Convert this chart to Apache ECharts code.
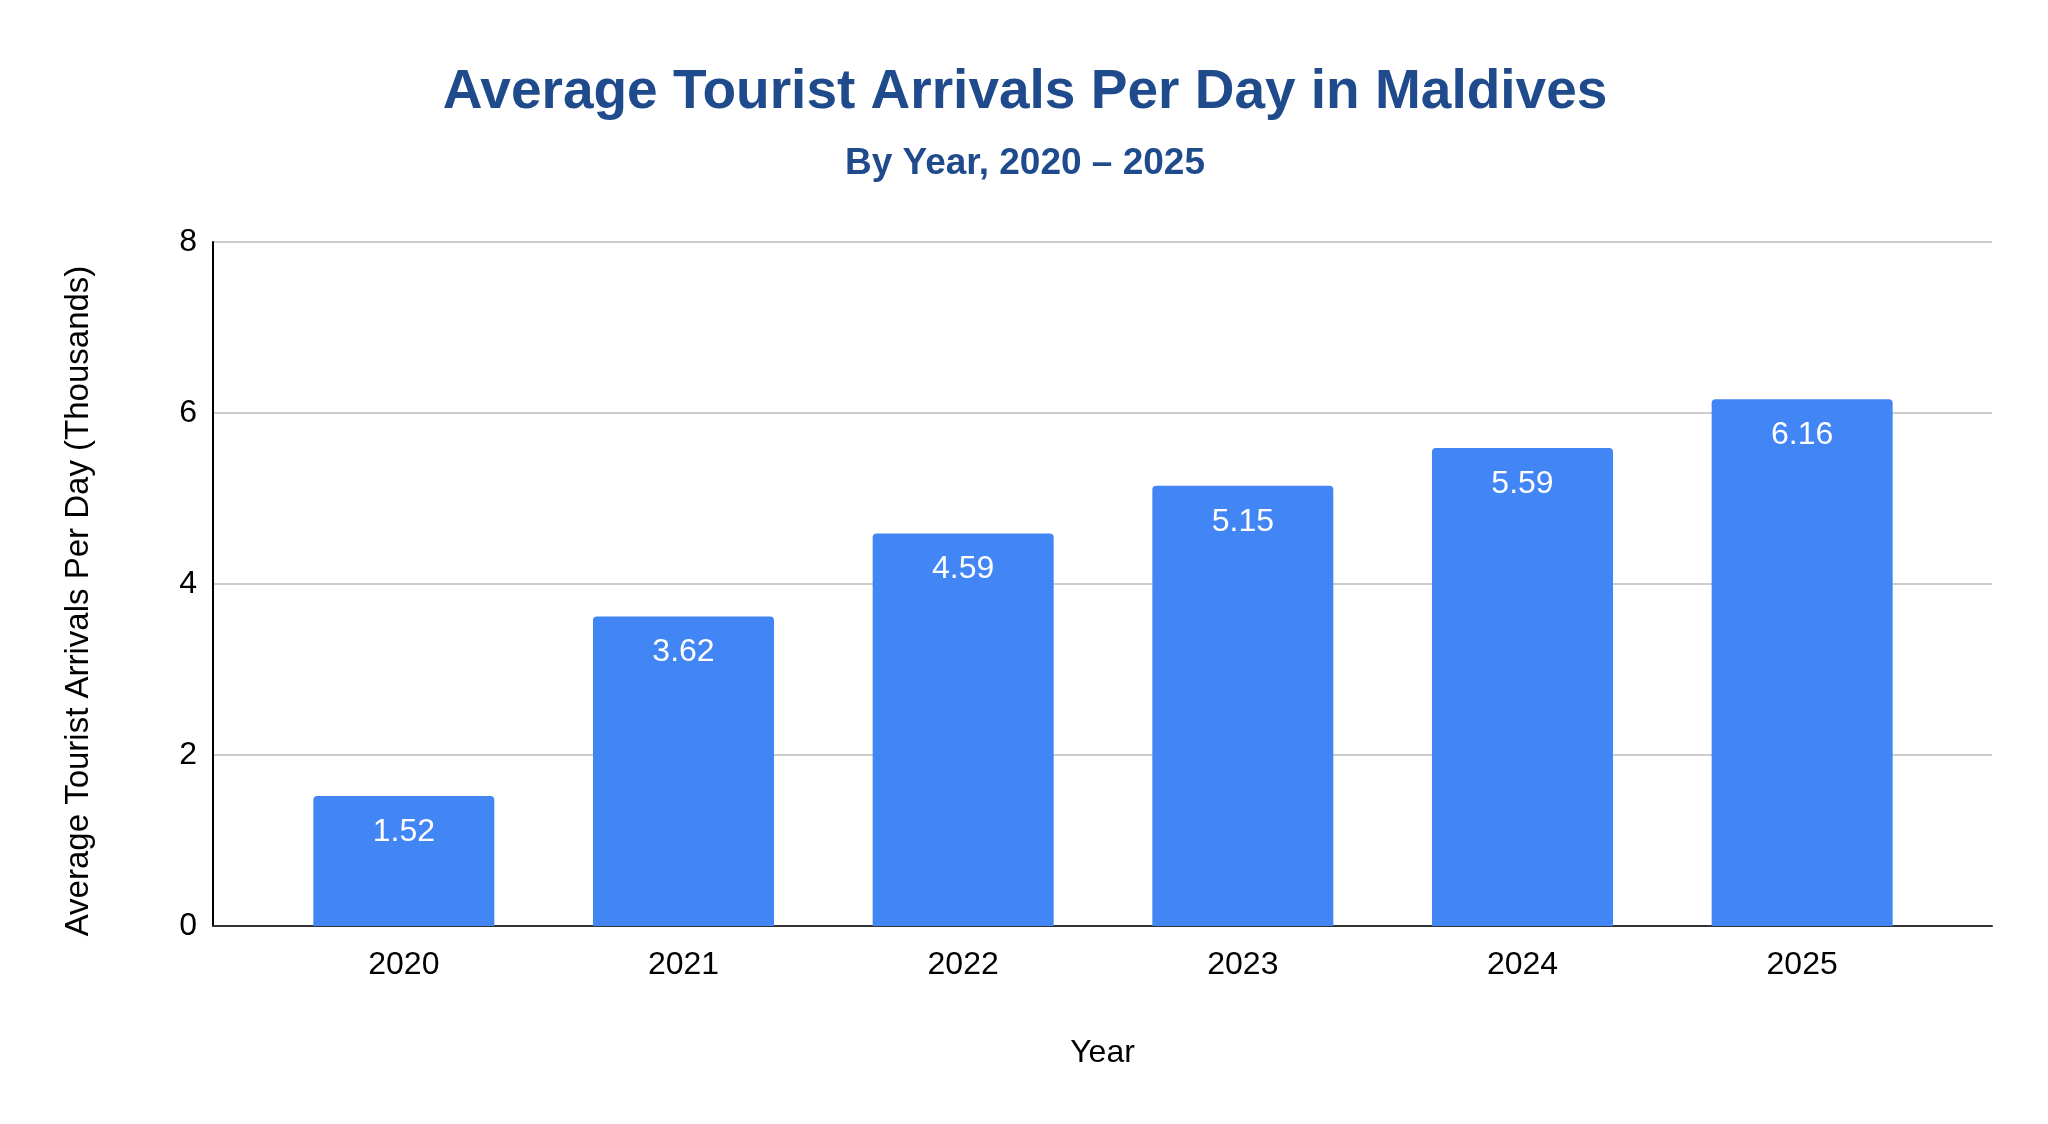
<!DOCTYPE html>
<html>
<head>
<meta charset="utf-8">
<title>Average Tourist Arrivals Per Day in Maldives</title>
<script src="https://cdn.jsdelivr.net/npm/echarts@6/dist/echarts.min.js"></script>
<style>
    html, body {margin: 0; padding: 0; background: #fff;}
    #main {width: 2048px; height: 1124px;}
</style>
</head>
<body>
<div id="main"></div>
<script>
// data
var years = ['2020', '2021', '2022', '2023', '2024', '2025'];
var arrivals = [1.52, 3.62, 4.59, 5.15, 5.59, 6.16];
var yTicks = [0, 2, 4, 6, 8];

var fontFam = 'Arial, "Liberation Sans", sans-serif';
var chart = echarts.init(document.getElementById('main'));

var option = {
    backgroundColor: '#ffffff',
    animation: false,
    title: {
        text: 'Average Tourist Arrivals Per Day in Maldives',
        subtext: 'By Year, 2020 \u2013 2025',
        left: 1020,
        textAlign: 'center',
        top: 60,
        itemGap: 25,
        textStyle: {fontFamily: fontFam, fontSize: 55, fontWeight: 'bold', color: '#1f4a8c'},
        subtextStyle: {fontFamily: fontFam, fontSize: 37, fontWeight: 'bold', color: '#1f4a8c'}
    },
    // grid 0 = frame with gridlines, grid 1 = bars (padded inside the frame)
    grid: [
        {left: 213, right: 56, top: 242, bottom: 198},
        {left: 264, right: 106, top: 242, bottom: 198}
    ],
    xAxis: [
        {
            gridIndex: 0,
            type: 'value',
            min: 0,
            max: 1,
            name: 'Year',
            nameLocation: 'middle',
            nameGap: 111,
            nameTextStyle: {fontFamily: fontFam, fontSize: 32, color: '#000'},
            axisLine: {show: true, lineStyle: {color: '#333', width: 2}},
            axisTick: {show: false},
            axisLabel: {show: false},
            splitLine: {show: false}
        },
        {
            gridIndex: 1,
            type: 'category',
            data: years,
            axisLine: {show: false},
            axisTick: {show: false},
            axisLabel: {fontFamily: fontFam, fontSize: 32, color: '#000', margin: 23}
        }
    ],
    yAxis: [
        {
            gridIndex: 0,
            type: 'value',
            min: yTicks[0],
            max: yTicks[yTicks.length - 1],
            interval: yTicks[1] - yTicks[0],
            name: 'Average Tourist Arrivals Per Day (Thousands)',
            nameLocation: 'middle',
            nameGap: 118,
            nameTextStyle: {fontFamily: fontFam, fontSize: 33, color: '#000', padding: [0, 34, 0, 0]},
            axisLine: {show: true, lineStyle: {color: '#000', width: 2}},
            axisTick: {show: false},
            axisLabel: {fontFamily: fontFam, fontSize: 32, color: '#000', margin: 16},
            splitLine: {show: true, lineStyle: {color: '#cccccc', width: 2}}
        },
        {
            gridIndex: 1,
            type: 'value',
            min: yTicks[0],
            max: yTicks[yTicks.length - 1],
            show: false
        }
    ],
    series: [
        {
            type: 'bar',
            xAxisIndex: 1,
            yAxisIndex: 1,
            data: arrivals,
            barWidth: 181,
            itemStyle: {color: '#4285f4', borderRadius: [4, 4, 0, 0]},
            label: {
                show: true,
                position: 'insideTop',
                distance: 20,
                fontFamily: fontFam,
                fontSize: 32,
                color: '#ffffff'
            }
        }
    ]
};

chart.setOption(option);
</script>
</body>
</html>
